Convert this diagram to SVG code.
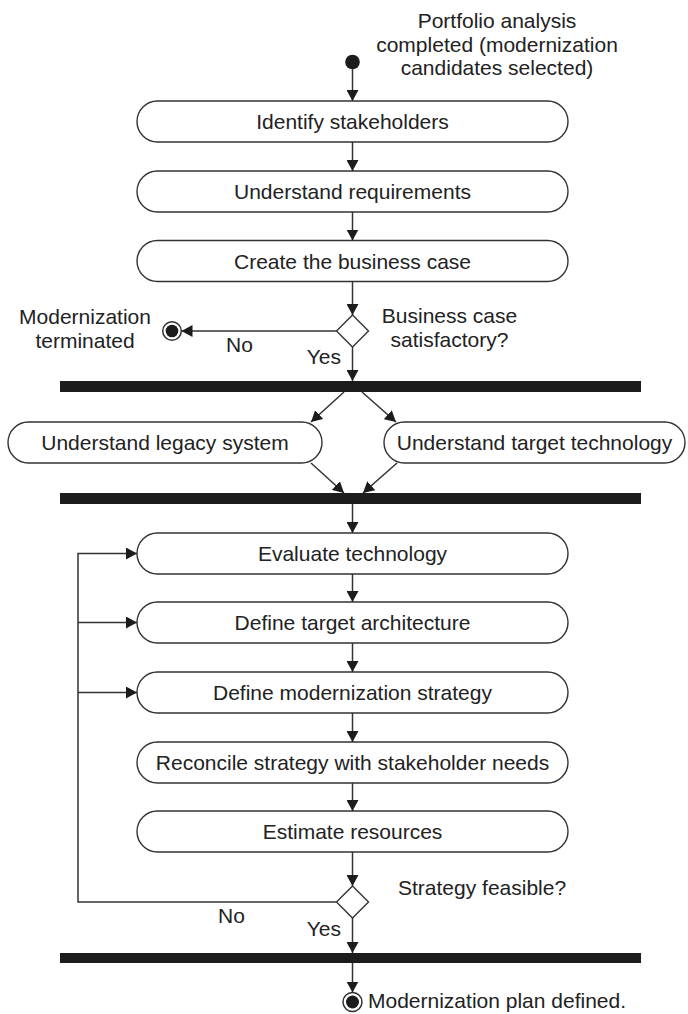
<svg xmlns="http://www.w3.org/2000/svg" width="688" height="1014" viewBox="0 0 688 1014">
<style>
  text { font-family: "Liberation Sans", Arial, Helvetica, sans-serif; font-size: 21px; fill: #222; }
  .c { text-anchor: middle; }
  .box { fill: #fff; stroke: #333; stroke-width: 1.4; }
  .bar { fill: #1c1c1c; }
  .ln { fill: none; stroke: #333; stroke-width: 1.5; }
  .dia { fill: #fff; stroke: #333; stroke-width: 1.4; }
</style>
<defs>
  <marker id="ah" viewBox="0 0 11 12" refX="11" refY="6" markerWidth="11" markerHeight="12" markerUnits="userSpaceOnUse" orient="auto">
    <path d="M0,0 L11,6 L0,12 z" fill="#1c1c1c"/>
  </marker>
</defs>

<g id="title-note">
  <text class="c" x="497" y="28">Portfolio analysis</text>
  <text class="c" x="497" y="52">completed (modernization</text>
  <text class="c" x="497" y="75">candidates selected)</text>
</g>

<g id="start"><circle cx="352.5" cy="62" r="7.3" fill="#1c1c1c"/></g>

<g id="n-identify"><rect class="box" x="137" y="101" width="431" height="41" rx="20.5"/><text class="c" x="352.5" y="129">Identify stakeholders</text></g>
<g id="n-requirements"><rect class="box" x="137" y="171" width="431" height="41" rx="20.5"/><text class="c" x="352.5" y="199">Understand requirements</text></g>
<g id="n-business"><rect class="box" x="137" y="240.5" width="431" height="41" rx="20.5"/><text class="c" x="352.5" y="268.5">Create the business case</text></g>

<g id="d-business"><path class="dia" d="M352.5,315 L368.5,331 L352.5,347 L336.5,331 z"/>
  <text class="c" x="449.5" y="323">Business case</text>
  <text class="c" x="449.5" y="347">satisfactory?</text>
</g>

<g id="end-terminated"><circle cx="172" cy="331" r="9.3" fill="#fff" stroke="#333" stroke-width="1.5"/><circle cx="172" cy="331" r="6.3" fill="#1c1c1c"/>
  <text class="c" x="85" y="324">Modernization</text>
  <text class="c" x="85" y="348">terminated</text>
</g>

<g id="fork1"><rect class="bar" x="60" y="381" width="581" height="11"/></g>

<g id="n-legacy"><rect class="box" x="8" y="422" width="314" height="41" rx="20.5"/><text class="c" x="165" y="450">Understand legacy system</text></g>
<g id="n-target"><rect class="box" x="384" y="422" width="301" height="41" rx="20.5"/><text class="c" x="534.5" y="450">Understand target technology</text></g>

<g id="join1"><rect class="bar" x="60" y="493" width="581" height="11"/></g>

<g id="n-evaluate"><rect class="box" x="137" y="533" width="431" height="41" rx="20.5"/><text class="c" x="352.5" y="561">Evaluate technology</text></g>
<g id="n-architecture"><rect class="box" x="137" y="602" width="431" height="41" rx="20.5"/><text class="c" x="352.5" y="630">Define target architecture</text></g>
<g id="n-strategy"><rect class="box" x="137" y="672" width="431" height="41" rx="20.5"/><text class="c" x="352.5" y="700">Define modernization strategy</text></g>
<g id="n-reconcile"><rect class="box" x="137" y="742" width="431" height="41" rx="20.5"/><text class="c" x="352.5" y="770">Reconcile strategy with stakeholder needs</text></g>
<g id="n-estimate"><rect class="box" x="137" y="811" width="431" height="41" rx="20.5"/><text class="c" x="352.5" y="839">Estimate resources</text></g>

<g id="d-feasible"><path class="dia" d="M352.5,886 L368.5,902 L352.5,918 L336.5,902 z"/>
  <text x="398" y="895">Strategy feasible?</text>
</g>

<g id="join2"><rect class="bar" x="60" y="953" width="581" height="10"/></g>

<g id="end-plan"><circle cx="352.5" cy="1002" r="9.5" fill="#fff" stroke="#333" stroke-width="1.5"/><circle cx="352.5" cy="1002" r="6.5" fill="#1c1c1c"/>
  <text x="368" y="1008">Modernization plan defined.</text>
</g>

<g id="connectors">
  <line class="ln" x1="352.5" y1="69" x2="352.5" y2="101" marker-end="url(#ah)"/>
  <line class="ln" x1="352.5" y1="142" x2="352.5" y2="171" marker-end="url(#ah)"/>
  <line class="ln" x1="352.5" y1="212" x2="352.5" y2="240.5" marker-end="url(#ah)"/>
  <line class="ln" x1="352.5" y1="281.5" x2="352.5" y2="315" marker-end="url(#ah)"/>
  <line class="ln" x1="336.5" y1="331" x2="181.5" y2="331" marker-end="url(#ah)"/>
  <line class="ln" x1="352.5" y1="347" x2="352.5" y2="381" marker-end="url(#ah)"/>
  <line class="ln" x1="344" y1="392" x2="311" y2="422" marker-end="url(#ah)"/>
  <line class="ln" x1="362" y1="392" x2="396" y2="422" marker-end="url(#ah)"/>
  <line class="ln" x1="311" y1="463" x2="344" y2="493" marker-end="url(#ah)"/>
  <line class="ln" x1="397" y1="463" x2="363" y2="493" marker-end="url(#ah)"/>
  <line class="ln" x1="352.5" y1="504" x2="352.5" y2="533" marker-end="url(#ah)"/>
  <line class="ln" x1="352.5" y1="574" x2="352.5" y2="602" marker-end="url(#ah)"/>
  <line class="ln" x1="352.5" y1="643" x2="352.5" y2="672" marker-end="url(#ah)"/>
  <line class="ln" x1="352.5" y1="713" x2="352.5" y2="742" marker-end="url(#ah)"/>
  <line class="ln" x1="352.5" y1="783" x2="352.5" y2="811" marker-end="url(#ah)"/>
  <line class="ln" x1="352.5" y1="852" x2="352.5" y2="886" marker-end="url(#ah)"/>
  <path class="ln" d="M336.5,902 H78 V553.5 H137" marker-end="url(#ah)"/>
  <line class="ln" x1="78" y1="622.5" x2="137" y2="622.5" marker-end="url(#ah)"/>
  <line class="ln" x1="78" y1="692.5" x2="137" y2="692.5" marker-end="url(#ah)"/>
  <line class="ln" x1="352.5" y1="918" x2="352.5" y2="953" marker-end="url(#ah)"/>
  <line class="ln" x1="352.5" y1="963" x2="352.5" y2="992.5" marker-end="url(#ah)"/>
  <text x="226" y="352">No</text>
  <text x="341" y="364" text-anchor="end">Yes</text>
  <text x="218" y="923">No</text>
  <text x="341" y="936" text-anchor="end">Yes</text>
</g>
</svg>
